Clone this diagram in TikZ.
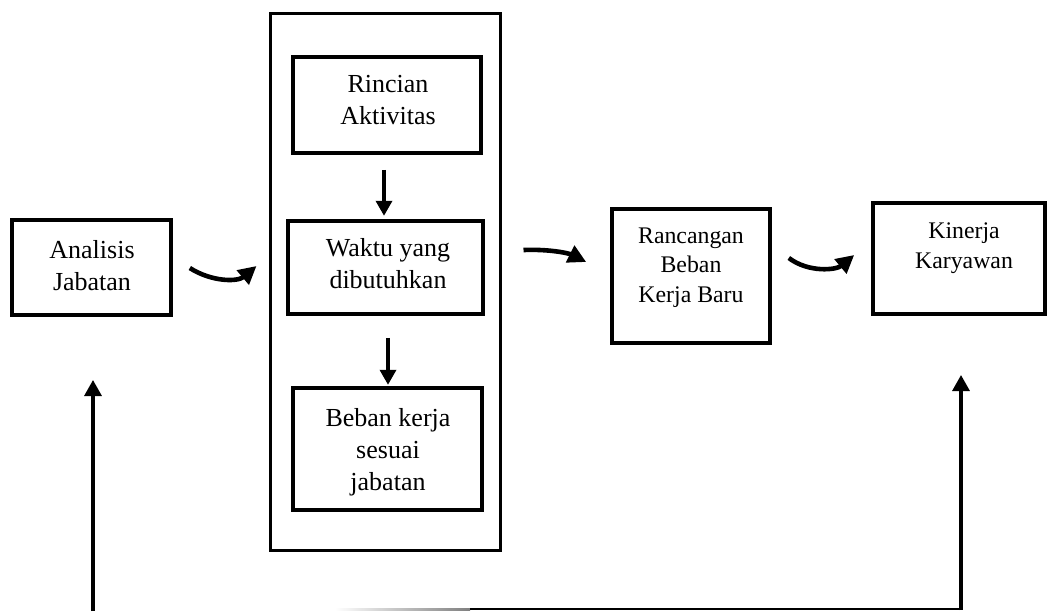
\documentclass[tikz,border=0pt]{standalone}
\usepackage{fontspec}
\setmainfont{Liberation Serif}
\usetikzlibrary{arrows.meta,calc}
\begin{document}
\begin{tikzpicture}[x=1pt,y=-1pt,
  box/.style={draw, line width=3.6pt, inner sep=0pt},
  bigtxt/.style={font=\fontsize{26}{32}\selectfont, align=center, inner sep=0pt},
  smalltxt/.style={font=\fontsize{23.8}{29.5}\selectfont, align=center, inner sep=0pt},
  kintxt/.style={font=\fontsize{23.8}{30}\selectfont, align=center, inner sep=0pt},
  curvearrow/.style={line width=4.6pt, -{Triangle[length=18pt,width=18pt]}},
  straightarrow/.style={line width=3.4pt, -{Triangle[length=15pt,width=16pt]}},
  feedarrow/.style={line width=3.2pt, -{Triangle[length=16pt,width=17pt]}}
]
\useasboundingbox (0,0) rectangle (1048,611);

% boxes
\node[box, minimum width=159pt, minimum height=95pt] (ana) at (91.5,267.5) {};
\node[box, line width=3pt, minimum width=230pt, minimum height=537pt] (cont) at (385,281.5) {};
\node[box, minimum width=188pt, minimum height=96pt] (rin) at (387,105) {};
\node[box, minimum width=195pt, minimum height=93pt] (wak) at (385.5,267.5) {};
\node[box, minimum width=189pt, minimum height=122pt] (beb) at (387.5,449) {};
\node[box, minimum width=158pt, minimum height=134pt] (ran) at (691,276) {};
\node[box, minimum width=172pt, minimum height=111pt] (kin) at (959,258.5) {};

% texts
\node[bigtxt] (anat) at (92,267.6) {\strut Analisis\\\strut Jabatan};
\node[bigtxt] (rint) at (388,102.1) {\strut Rincian\\\strut Aktivitas};
\node[bigtxt] (wakt) at (388,266.1) {\strut Waktu yang\\\strut dibutuhkan};
\node[bigtxt] (bebt) at (388,452.1) {\strut Beban kerja\\\strut sesuai\\\strut jabatan};
\node[smalltxt] (rant) at (691,266.6) {\strut Rancangan\\\strut Beban\\\strut Kerja Baru};
\node[kintxt] (kint) at (964,247) {\strut Kinerja\\\strut Karyawan};

% curved arrows
\draw[curvearrow] ($(ana.east)+(17,0.5)$) .. controls +(22,14) and +(-19,16) .. ($(cont.west)+(-12,-15.5)$);
\draw[curvearrow] ($(cont.east)+(22,-31.5)$) .. controls +(25,-1) and +(-18,-9) .. ($(ran.west)+(-24,-14)$);
\draw[curvearrow] ($(ran.east)+(17,-18)$) .. controls +(20,15) and +(-18,15) .. ($(kin.west)+(-17,-3.5)$);

% inner arrows
\draw[straightarrow] ($(rin.south)+(-3,15)$) -- ($(rin.south)+(-3,61)$);
\draw[straightarrow] ($(wak.south)+(2.5,22)$) -- ($(wak.south)+(2.5,69)$);

% feedback lines
\coordinate (lb) at (93,611);
\coordinate (lt) at (93,380);
\coordinate (rb) at (961,609);
\coordinate (rt) at (961,375);
\coordinate (hb) at (470,609);
\draw[feedarrow] (lb) -- (lt);
\shade[left color=white, right color=gray] (335,608) rectangle (470,610.2);
\draw[line width=2.4pt] (hb) -- (rb);
\draw[feedarrow] ($(rb)+(0,1.2)$) -- (rt);
\end{tikzpicture}
\end{document}
